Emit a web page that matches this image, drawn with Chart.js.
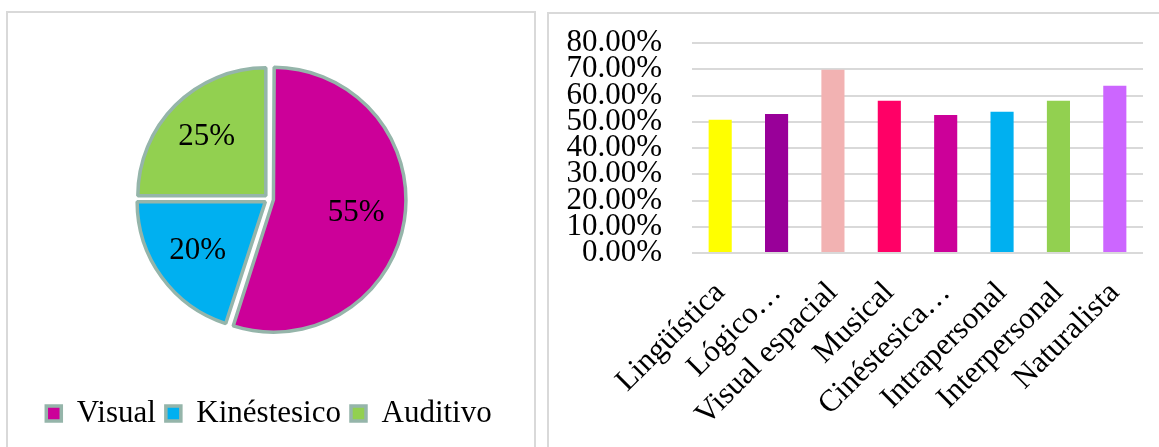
<!DOCTYPE html>
<html>
<head>
<meta charset="utf-8">
<script src="https://cdn.jsdelivr.net/npm/chart.js@4.4.1/dist/chart.umd.min.js"></script>
<style>
html, body { margin: 0; padding: 0; background: #fff; overflow: hidden; }
body { width: 1159px; height: 447px; position: relative; }
.panel { position: absolute; border: 2px solid #d9d9d9; box-sizing: border-box; }
#leftPanel { left: 6px; top: 11px; width: 530px; height: 460px; }
#rightPanel { left: 547px; top: 12px; width: 620px; height: 460px; }
.box { position: absolute; }
</style>
</head>
<body>
<div class="panel" id="leftPanel"></div>
<div class="panel" id="rightPanel"></div>
<div class="box" style="left:5px;top:10px;width:527px;height:437px"><canvas id="pie"></canvas></div>
<div class="box" style="left:547px;top:12px;width:612px;height:435px"><canvas id="bar"></canvas></div>
<script>
// pie: estilos de aprendizaje
const pieLabels = ['Visual', 'Kinéstesico', 'Auditivo'];
const pieValues = [55, 20, 25];
const pieColors = ['#CC0099', '#00B0F0', '#92D050'];

// barras: inteligencias multiples (%)
const barLabels = ['Lingüística', 'Lógico…', 'Visual espacial', 'Musical', 'Cinéstesica…', 'Intrapersonal', 'Interpersonal', 'Naturalista'];
const barValues = [50.8, 53.0, 69.8, 58.0, 52.6, 53.8, 58.0, 63.7];
const barColors = ['#FFFF00', '#990099', '#F2B2B2', '#FF0066', '#CC0099', '#00B0F0', '#92D050', '#CC66FF'];

const serif = { family: '"Liberation Serif", "Times New Roman", serif', size: 31, lineHeight: 1 };

const sliceLabels = {
	id: 'sliceLabels',
	afterDatasetsDraw(chart) {
		const ctx = chart.ctx;
		const meta = chart.getDatasetMeta(0);
		ctx.save();
		ctx.font = '31px "Liberation Serif", "Times New Roman", serif';
		ctx.fillStyle = '#000';
		ctx.textAlign = 'center';
		ctx.textBaseline = 'middle';
		meta.data.forEach((arc, i) => {
			const p = arc.getProps(['x', 'y', 'startAngle', 'endAngle', 'outerRadius']);
			const mid = (p.startAngle + p.endAngle) / 2;
			const r = p.outerRadius * 0.69;
			ctx.fillText(pieValues[i] + '%', p.x + Math.cos(mid) * r, p.y + Math.sin(mid) * r);
		});
		ctx.restore();
	}
};

new Chart(document.getElementById('pie'), {
	type: 'pie',
	data: {
		labels: pieLabels,
		datasets: [{
			data: pieValues,
			backgroundColor: pieColors,
			borderColor: '#95B5AA',
			borderWidth: 3.5,
			offset: 18,
			radius: 128
		}]
	},
	options: {
		responsive: true,
		maintainAspectRatio: false,
		animation: false,
		layout: { padding: { top: 0, left: 1, right: 0, bottom: 8 } },
		plugins: {
			tooltip: { enabled: false },
			legend: {
				position: 'bottom',
				labels: { font: serif, color: '#000', boxWidth: 15, boxHeight: 15, padding: 10 }
			}
		}
	},
	plugins: [sliceLabels]
});

new Chart(document.getElementById('bar'), {
	type: 'bar',
	data: {
		labels: barLabels,
		datasets: [{
			data: barValues,
			backgroundColor: barColors,
			barPercentage: 0.41,
			categoryPercentage: 1
		}]
	},
	options: {
		responsive: true,
		maintainAspectRatio: false,
		animation: false,
		layout: { padding: { top: 31, right: 16, left: 0, bottom: 0 } },
		plugins: { legend: { display: false }, tooltip: { enabled: false } },
		scales: {
			x: {
				grid: { display: false },
				border: { display: false },
				ticks: { font: serif, color: '#000', minRotation: 45, maxRotation: 45, autoSkip: false, padding: 16 },
				afterFit(s) { s.height = 194; }
			},
			y: {
				min: 0,
				max: 80,
				grid: { color: '#d9d9d9', lineWidth: 2, drawTicks: false },
				border: { display: false },
				ticks: {
					stepSize: 10,
					autoSkip: false,
					font: serif,
					color: '#000',
					padding: 30,
					callback: (v) => v.toFixed(2) + '%'
				},
				afterFit(s) {
					s.width = 145;
					s.paddingTop = 0;
					s.paddingBottom = 0;
				}
			}
		}
	}
});
</script>
</body>
</html>
